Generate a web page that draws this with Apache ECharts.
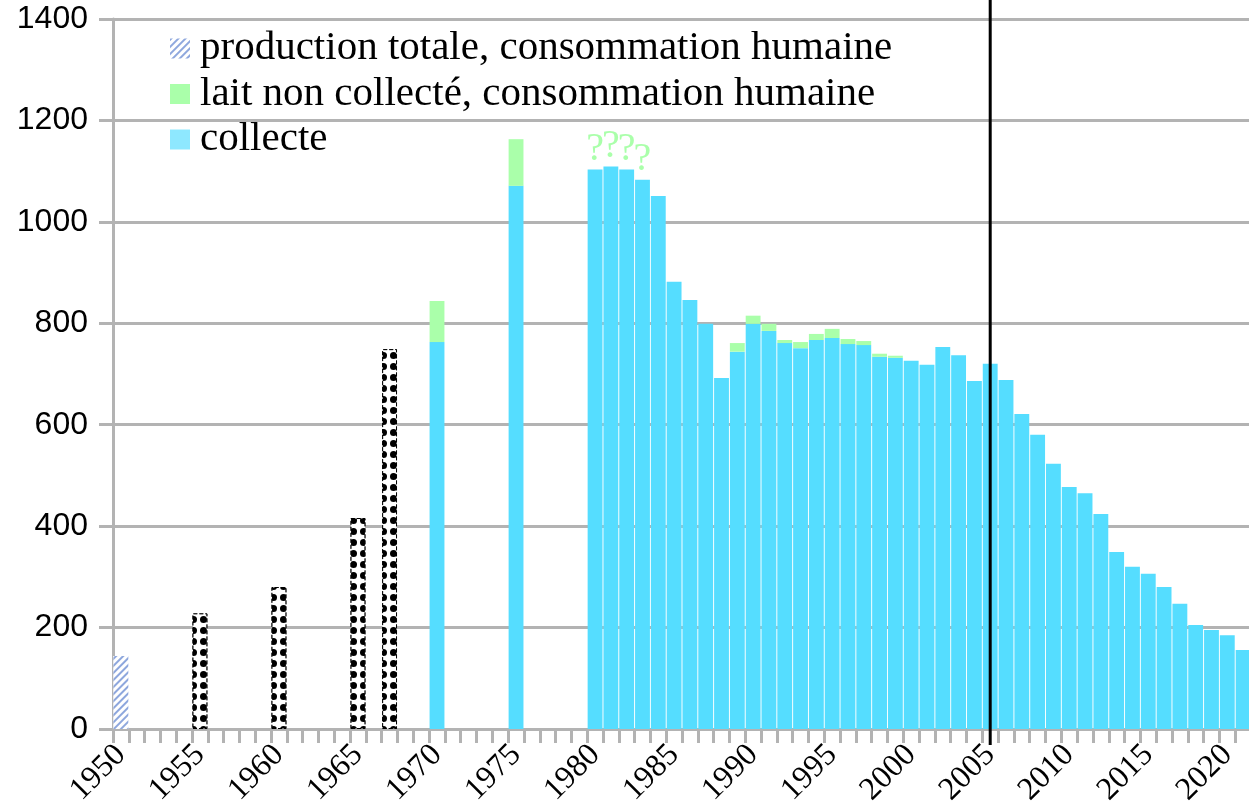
<!DOCTYPE html>
<html><head><meta charset="utf-8">
<script src="https://cdn.jsdelivr.net/npm/echarts@6/dist/echarts.min.js"></script>
<style>html,body{margin:0;padding:0;background:#fff}#c{width:1249px;height:809px}</style>
</head><body><div id="c"></div>
<script>
// ---- categories ----
const years = [];
for (let y = 1950; y <= 2021; y++) years.push(String(y));
const labelStep = 5;

// ---- data (kt) ----
const collecteYears = [1970, 1975,
  1980, 1981, 1982, 1983, 1984, 1985, 1986, 1987, 1988, 1989,
  1990, 1991, 1992, 1993, 1994, 1995, 1996, 1997, 1998, 1999,
  2000, 2001, 2002, 2003, 2004, 2005, 2006, 2007, 2008, 2009,
  2010, 2011, 2012, 2013, 2014, 2015, 2016, 2017, 2018, 2019,
  2020, 2021];
const collecteValues = [763, 1071,
  1103, 1109, 1103, 1083, 1051, 882, 846, 799, 692, 744,
  799, 785, 761, 751, 767, 771, 759, 757, 734, 732,
  726, 718, 753, 737, 686, 720, 688, 621, 580, 523,
  477, 465, 424, 349, 320, 306, 280, 247, 205, 195,
  185, 156];

const nonCollecteYears = [1970, 1975, 1989, 1990, 1991, 1992, 1993, 1994, 1995, 1996, 1997, 1998, 1999];
const nonCollecteValues = [81, 92, 17, 16, 14, 6, 12, 12, 18, 10, 8, 6, 4];

const productionYears = [1950];
const productionValues = [144];

const estimationYears = [1955, 1960, 1965, 1967];
const estimationValues = [228, 280, 416, 749];

const uncertainYears = [1980, 1981, 1982, 1983];
const markerYear = '2005';

const NAME_PROD = 'production totale, consommation humaine';
const NAME_NC = 'lait non collecté, consommation humaine';
const NAME_COL = 'collecte';

const serif = '"Liberation Serif", "Times New Roman", serif';
const sans = '"Liberation Sans", Arial, sans-serif';

function fill(yrs, vals, decorate) {
  const m = {};
  yrs.forEach((y, i) => { m[y] = vals[i]; });
  return years.map(y => {
    if (!(y in m)) return '-';
    return decorate ? decorate(Number(y), m[y]) : m[y];
  });
}

const collecteData = fill(collecteYears, collecteValues, (y, v) => {
  if (uncertainYears.indexOf(y) >= 0) {
    return { value: v, label: { show: true, formatter: '?', position: 'top', distance: 0,
      fontFamily: serif, fontSize: 40, color: '#aaffaa' } };
  }
  return v;
});

const chart = echarts.init(document.getElementById('c'), null, { renderer: 'canvas' });
const gray = '#b3b3b3';

chart.setOption({
  animation: false,
  backgroundColor: '#ffffff',
  grid: { left: 113, top: 19, width: 1138, height: 710, containLabel: false, outerBoundsMode: 'none' },
  legend: {
    orient: 'vertical', left: 165, top: 23, itemWidth: 20, itemHeight: 20, itemGap: 4.5,
    icon: 'rect', selectedMode: false,
    textStyle: { fontFamily: serif, fontSize: 41, color: '#000', padding: [0, 0, 0, 5] },
    data: [
      { name: NAME_PROD },
      { name: NAME_NC, itemStyle: { color: '#aaffaa' } },
      { name: NAME_COL, itemStyle: { color: '#8ee8ff' } }
    ]
  },
  xAxis: {
    type: 'category', data: years, boundaryGap: true,
    axisLine: { show: true, lineStyle: { color: gray, width: 3 } },
    axisTick: { show: true, interval: 0, length: 14, lineStyle: { color: gray, width: 3 } },
    axisLabel: {
      interval: (i, v) => Number(v) % labelStep === 0,
      rotate: 45, margin: 21, fontFamily: serif, fontSize: 32, color: '#000'
    },
    splitLine: { show: false }
  },
  yAxis: {
    type: 'value', min: 0, max: 1400, interval: 200,
    axisLine: { show: true, lineStyle: { color: gray, width: 3 } },
    axisTick: { show: true, length: 14, lineStyle: { color: gray, width: 3 } },
    axisLabel: { margin: 25, fontFamily: sans, fontSize: 32, color: '#000', formatter: v => String(v) },
    splitLine: { show: true, lineStyle: { color: gray, width: 3 } }
  },
  series: [
    {
      name: NAME_PROD, type: 'bar', data: fill(productionYears, productionValues),
      barGap: '-100%', barCategoryGap: '6%',
      itemStyle: { color: '#ffffff', decal: { symbol: 'rect', symbolSize: 1, color: '#8ea7dd',
        backgroundColor: '#ffffff', dashArrayX: [1, 0], dashArrayY: [2, 3], rotation: -Math.PI / 4 } }
    },
    {
      name: 'estimation', type: 'bar', data: fill(estimationYears, estimationValues),
      barGap: '-100%', barCategoryGap: '6%',
      itemStyle: { color: '#ffffff', borderColor: '#000', borderType: 'dashed', borderWidth: 1,
        decal: { symbol: 'circle', symbolSize: 1, color: '#000', backgroundColor: '#ffffff',
          dashArrayX: [7, 3], dashArrayY: [7, 3.4] } }
    },
    {
      name: NAME_COL, type: 'bar', stack: 'lait', data: collecteData,
      barGap: '-100%', barCategoryGap: '6%',
      itemStyle: { color: '#55ddff' }
    },
    {
      name: NAME_NC, type: 'bar', stack: 'lait', data: fill(nonCollecteYears, nonCollecteValues),
      barGap: '-100%', barCategoryGap: '6%',
      itemStyle: { color: '#aaffaa' }
    }
  ]
});

const px = chart.convertToPixel({ xAxisIndex: 0 }, markerYear);
const yBottom = chart.convertToPixel({ yAxisIndex: 0 }, 0) + 16;
chart.setOption({
  graphic: [{ type: 'line', z: 100, shape: { x1: px, y1: 0, x2: px, y2: yBottom },
    style: { stroke: '#000', lineWidth: 3 } }]
});
</script>
</body></html>
